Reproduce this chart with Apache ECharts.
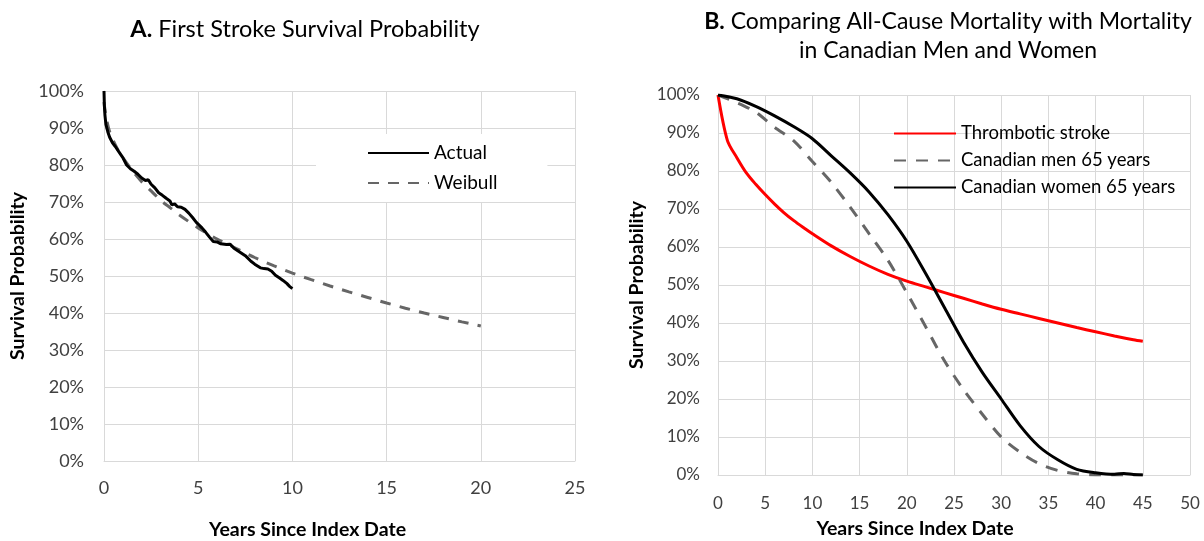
<!DOCTYPE html>
<html>
<head>
<meta charset="utf-8">
<script src="https://cdn.jsdelivr.net/npm/echarts@6/dist/echarts.min.js"></script>
<style>html,body{margin:0;padding:0;background:#fff}#c{width:1204px;height:541px}</style>
</head>
<body>
<div id="c"></div>
<script>
// ---- Panel A data ----
const actualYears = [0,0.02,0.05,0.1,0.2,0.3,0.45,0.6,0.8,1.0,1.2,1.4,1.6,1.8,2.0,2.2,2.35,2.5,2.7,2.9,3.1,3.3,3.5,3.6,3.75,3.9,4.1,4.3,4.5,4.7,4.9,5.0,5.2,5.4,5.6,5.8,6.0,6.2,6.5,6.7,6.9,7.2,7.5,7.8,8.0,8.1,8.3,8.5,8.7,8.9,9.1,9.3,9.5,9.7,9.85,10.0];
const actualSurvival = [100,96,93.5,91,89,87.5,86,85,83.5,82,80,79,78.3,77.5,76.5,75.8,76,74.8,73.8,72.5,71.8,71,70.3,69.2,69.5,68.7,68.6,68,67,65.8,64.5,64.2,63,61.8,60.5,59.3,59.2,58.7,58.5,58.6,57.5,56.5,55.5,54,53.2,53.6,52.2,52,51.9,51.3,50.2,49.5,48.8,48,47.2,46.6];
const weibullYears = [0,0.05,0.15,0.3,0.5,0.75,1,1.5,2,2.5,3,3.5,4,5,6,7,8,9,10,11,12,13,14,15,16,17,18,19,20];
const weibullSurvival = [97,95,92,89,86.5,84,82,78.5,75.5,73,70.5,68.5,66.5,63,60,57.5,55,52.8,50.8,49,47.3,45.7,44.2,42.7,41.3,40,38.8,37.6,36.5];

// ---- Panel B data ----
const strokeYears = [0,1,2,3,4,5,6,7,8,9,10,12,14,16,18,20,22,24,26,28,30,32,34,36,38,40,42,44,45];
const strokeSurvival = [100,88,83.5,79.5,76.5,73.8,71.3,69,67,65.2,63.5,60.3,57.5,55,52.8,51,49.5,48,46.5,45,43.6,42.4,41.2,40,38.8,37.7,36.6,35.6,35.2];
const menYears = [0,2,4,6,8,10,12,14,16,18,20,22,24,26,28,30,32,34,36,38,40,42,45];
const menSurvival = [100,98,95.5,91.5,88,82.5,77,70.5,63.5,56.5,48,39,30,22.5,16,10,6,3,1.2,0.3,0,0,0];
const womenYears = [0,2,4,6,8,10,12,14,16,18,20,22,24,26,28,30,32,34,36,38,40,42,43,44,45];
const womenSurvival = [100,99,97,94.5,91.7,88.5,84,79.5,74.5,68.5,61.5,53,44,35,27,20,13,7.5,4,1.5,0.6,0.2,0.4,0.1,0];

const xTicksA = [0,5,10,15,20,25];
const xTicksB = [0,5,10,15,20,25,30,35,40,45,50];
const yTicks = [0,10,20,30,40,50,60,70,80,90,100];

const zip = (xs, ys) => xs.map((x, i) => [x, ys[i]]);

const FONT = 'Lato';
const gridColor = '#d9d9d9';
const labelColor = '#404040';

function xAxis(idx, ticks, size, margin, gap, shift) {
  return {
    type: 'value', gridIndex: idx, min: ticks[0], max: ticks[ticks.length - 1], interval: ticks[1] - ticks[0],
    name: 'Years Since Index Date', nameLocation: 'middle', nameGap: gap,
    nameTextStyle: {fontFamily: FONT, fontSize: 19.5, fontWeight: 'bold', color: '#000', padding: [0, shift * 2, 0, 0]},
    axisLine: {show: true, lineStyle: {color: gridColor, width: 1}},
    axisTick: {show: false},
    axisLabel: {fontFamily: FONT, fontSize: size, color: labelColor, margin: margin},
    splitLine: {show: true, lineStyle: {color: gridColor, width: 1}}
  };
}
function yAxis(idx, size, margin, gap) {
  return {
    type: 'value', gridIndex: idx, min: yTicks[0], max: yTicks[yTicks.length - 1], interval: 10,
    name: 'Survival Probability', nameLocation: 'middle', nameGap: gap, nameRotate: 90,
    nameTextStyle: {fontFamily: FONT, fontSize: 19.5, fontWeight: 'bold', color: '#000'},
    axisLine: {show: true, lineStyle: {color: gridColor, width: 1}},
    axisTick: {show: false},
    axisLabel: {fontFamily: FONT, fontSize: size, color: labelColor, margin: margin, formatter: v => v + '%'},
    splitLine: {show: true, lineStyle: {color: gridColor, width: 1}}
  };
}

const legendHidden = {opacity: 0, color: 'rgba(0,0,0,0)', borderColor: 'rgba(0,0,0,0)', borderWidth: 0};

const option = {
  animation: false,
  backgroundColor: '#fff',
  title: [
    {
      text: '{b|A.} First Stroke Survival Probability', left: 300, top: 12, textAlign: 'center',
      textStyle: {fontFamily: FONT, fontSize: 23.5, fontWeight: 'normal', color: '#000',
        rich: {b: {fontFamily: FONT, fontSize: 23.5, fontWeight: 'bold', color: '#000'}}}
    },
    {
      text: '{b|B.} Comparing All-Cause Mortality with Mortality\nin Canadian Men and Women', left: 943, top: 2, textAlign: 'center',
      textStyle: {fontFamily: FONT, fontSize: 23, fontWeight: 'normal', color: '#000', lineHeight: 29,
        rich: {b: {fontFamily: FONT, fontSize: 23, fontWeight: 'bold', color: '#000', lineHeight: 29}}}
    }
  ],
  legend: [
    {
      left: 316, top: 134, orient: 'vertical', padding: [9, 50, 9, 51], backgroundColor: '#fff',
      itemWidth: 61, itemHeight: 14, itemGap: 10, itemStyle: legendHidden,
      textStyle: {fontFamily: FONT, fontSize: 19, color: '#000', lineHeight: 20},
      data: ['Actual', 'Weibull']
    },
    {
      left: 893, top: 124, orient: 'vertical', padding: 0,
      itemWidth: 62, itemHeight: 14, itemGap: 8, itemStyle: legendHidden,
      textStyle: {fontFamily: FONT, fontSize: 18.5, color: '#000', lineHeight: 18},
      data: ['Thrombotic stroke', 'Canadian men 65 years', 'Canadian women 65 years']
    }
  ],
  grid: [
    {left: 104, right: 629, top: 91, bottom: 80, outerBoundsMode: 'none', containLabel: false},
    {left: 718, right: 14, top: 95, bottom: 66, outerBoundsMode: 'none', containLabel: false}
  ],
  xAxis: [xAxis(0, xTicksA, 18, 18, 59, 32), xAxis(1, xTicksB, 17, 20, 44, 39)],
  yAxis: [yAxis(0, 18, 20, 76), yAxis(1, 17, 18, 71)],
  series: [
    {name: 'Weibull', type: 'line', xAxisIndex: 0, yAxisIndex: 0, symbol: 'none', smooth: 0.3,
      lineStyle: {color: '#666666', width: 3, type: [11, 9]}, itemStyle: {color: '#666666'},
      data: zip(weibullYears, weibullSurvival), z: 2},
    {name: 'Actual', type: 'line', xAxisIndex: 0, yAxisIndex: 0, symbol: 'none',
      lineStyle: {color: '#000', width: 3}, itemStyle: {color: '#000'},
      data: zip(actualYears, actualSurvival), z: 3},
    {name: 'Thrombotic stroke', type: 'line', xAxisIndex: 1, yAxisIndex: 1, symbol: 'none', smooth: 0.3,
      lineStyle: {color: '#ff0000', width: 3}, itemStyle: {color: '#ff0000'},
      data: zip(strokeYears, strokeSurvival)},
    {name: 'Canadian men 65 years', type: 'line', xAxisIndex: 1, yAxisIndex: 1, symbol: 'none', smooth: 0.3,
      lineStyle: {color: '#666666', width: 3, type: [12, 10]}, itemStyle: {color: '#666666'},
      data: zip(menYears, menSurvival)},
    {name: 'Canadian women 65 years', type: 'line', xAxisIndex: 1, yAxisIndex: 1, symbol: 'none', smooth: 0.3,
      lineStyle: {color: '#000', width: 3}, itemStyle: {color: '#000'},
      data: zip(womenYears, womenSurvival)}
  ]
};

const chart = echarts.init(document.getElementById('c'));
chart.setOption(option);
</script>
</body>
</html>
